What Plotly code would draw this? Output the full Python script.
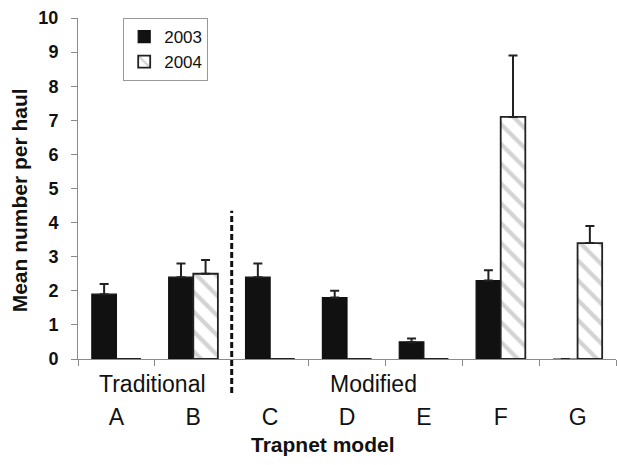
import plotly.graph_objects as go

categories = ["A", "B", "C", "D", "E", "F", "G"]
mean_2003 = [1.9, 2.4, 2.4, 1.8, 0.5, 2.3, 0.0]
err_2003 = [0.3, 0.4, 0.4, 0.2, 0.1, 0.3, 0.0]
mean_2004 = [0.0, 2.5, 0.0, 0.0, 0.0, 7.1, 3.4]
err_2004 = [0.0, 0.4, 0.0, 0.0, 0.0, 1.8, 0.5]
y_ticks = [0, 1, 2, 3, 4, 5, 6, 7, 8, 9, 10]
group_labels = ["Traditional", "Modified"]
group_label_x = [0.47, 3.35]
divider_x = 1.5
divider_top = 4.35
divider_bottom = -1.0

FONT = "Liberation Sans, Arial, sans-serif"
AXIS_GREY = "#8a8a8a"

fig = go.Figure()
fig.add_trace(go.Bar(
    name="2003", x=categories, y=mean_2003,
    marker=dict(color="#111111", line=dict(color="#111111", width=1.2)),
    error_y=dict(type="data", array=err_2003, arrayminus=[0] * len(err_2003),
                 symmetric=False, color="#222222", thickness=2, width=4.5),
))
fig.add_trace(go.Bar(
    name="2004", x=categories, y=mean_2004,
    marker=dict(color="white", line=dict(color="#222222", width=1.8),
                pattern=dict(shape="\\", fgcolor="#a8a8a8", bgcolor="white",
                             size=14, solidity=0.3)),
    error_y=dict(type="data", array=err_2004, arrayminus=[0] * len(err_2004),
                 symmetric=False, color="#222222", thickness=2, width=4.5),
))

fig.add_shape(type="line", xref="x", yref="paper",
              x0=divider_x, x1=divider_x,
              y0=divider_bottom / 10, y1=divider_top / 10,
              line=dict(color="#111111", width=3, dash="6px,3px"))

for lab, gx in zip(group_labels, group_label_x):
    fig.add_annotation(text=lab, x=gx, xref="x", y=-0.072, yref="paper",
                       showarrow=False, yanchor="middle", xanchor="center",
                       font=dict(family=FONT, size=23, color="#111111"))

fig.add_annotation(text="<b>Trapnet model</b>", x=0.455, xref="paper",
                   y=-0.25, yref="paper", showarrow=False,
                   yanchor="middle", xanchor="center",
                   font=dict(family=FONT, size=21, color="#111111"))
fig.add_annotation(text="<b>Mean number per haul</b>", textangle=-90,
                   x=-0.108, xref="paper", y=0.465, yref="paper",
                   showarrow=False, xanchor="center", yanchor="middle",
                   font=dict(family=FONT, size=21, color="#111111"))

fig.update_layout(
    width=617, height=465,
    margin=dict(l=78, r=1, t=18, b=106),
    plot_bgcolor="white", paper_bgcolor="white",
    barmode="group", bargap=0.36, bargroupgap=0,
    font=dict(family=FONT, color="#111111"),
    showlegend=True,
    legend=dict(x=0.084, y=1.0, xanchor="left", yanchor="top",
                bordercolor="#999999", borderwidth=1, bgcolor="white",
                font=dict(family=FONT, size=17, color="#111111"),
                itemwidth=30, tracegroupgap=0),
)
fig.update_xaxes(
    type="category", showline=True, linecolor=AXIS_GREY, linewidth=1,
    ticks="outside", tickson="boundaries", ticklen=6, tickcolor=AXIS_GREY,
    tickfont=dict(family=FONT, size=23, color="#111111"),
    ticklabelstandoff=37, showgrid=False, zeroline=False,
)
fig.update_yaxes(
    range=[0, 10], tickvals=y_ticks, showline=True, linecolor=AXIS_GREY,
    linewidth=1, ticks="outside", ticklen=6, tickcolor=AXIS_GREY,
    tickfont=dict(family=FONT, size=18, color="#111111", weight="bold"),
    showgrid=False, zeroline=False, ticklabelstandoff=9,
)

fig.write_html("out.html")
